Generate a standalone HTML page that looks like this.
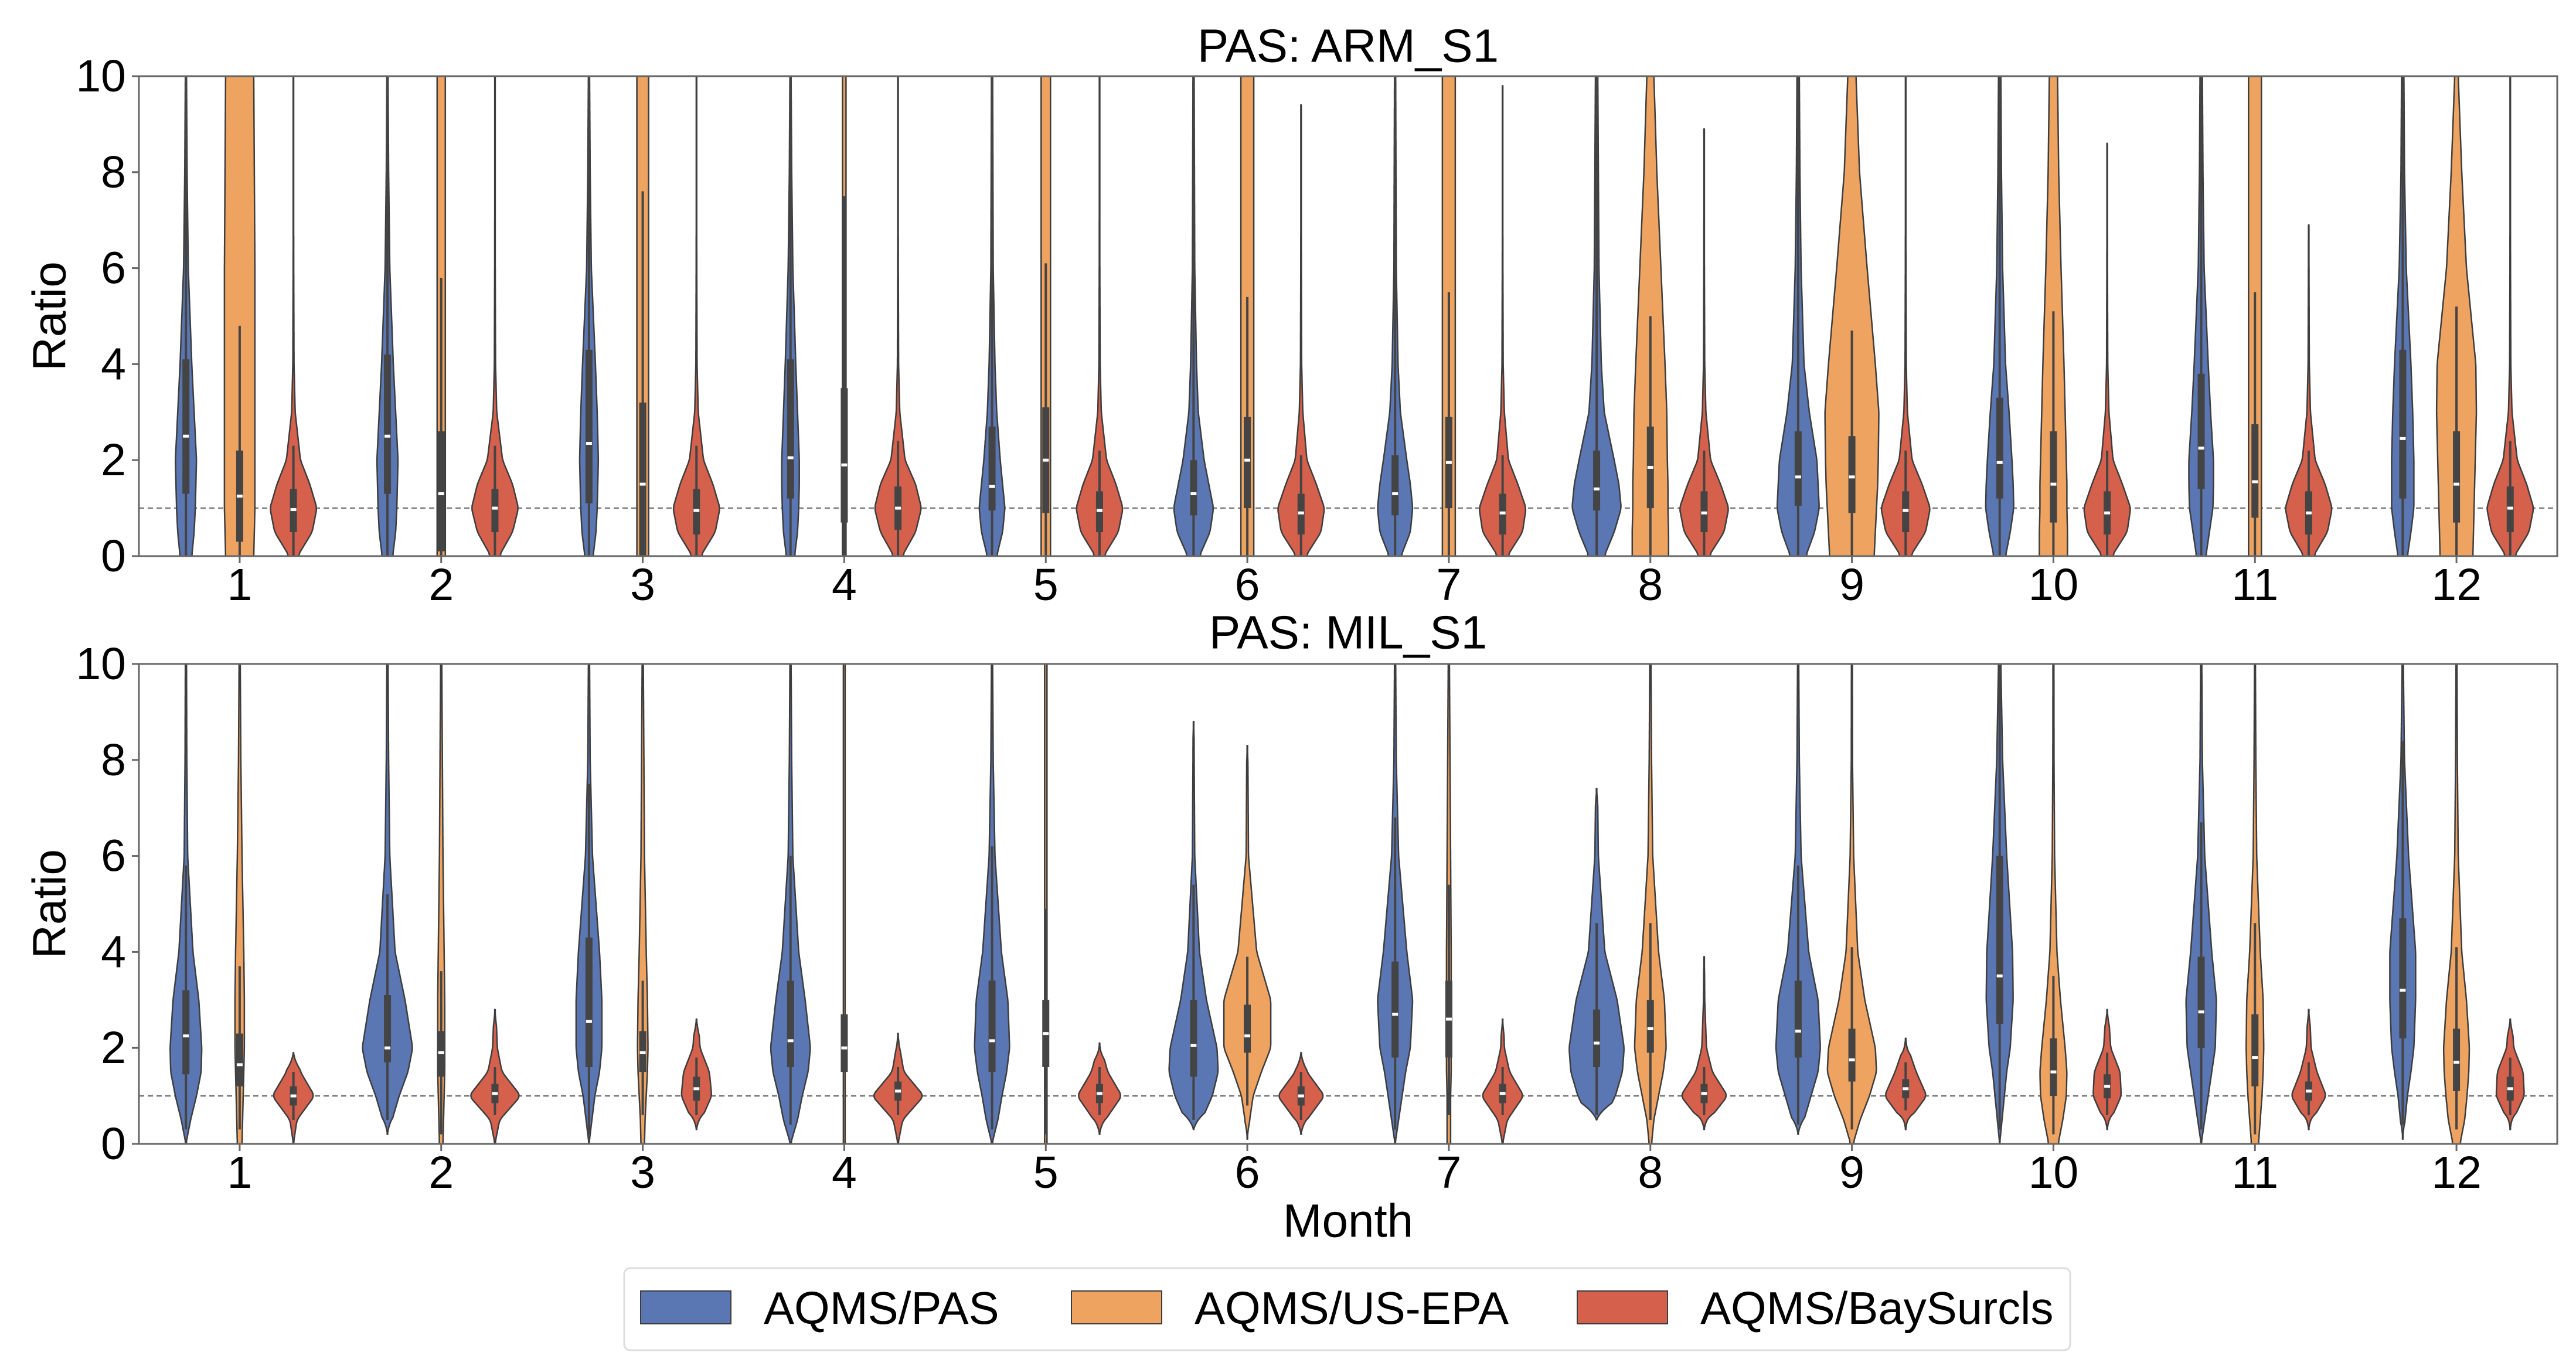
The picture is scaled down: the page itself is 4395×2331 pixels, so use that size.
<!DOCTYPE html>
<html><head><meta charset="utf-8">
<style>
html,body{margin:0;padding:0;background:#fff;}
svg{display:block;font-family:"Liberation Sans","DejaVu Sans",sans-serif;}
</style></head>
<body>
<svg id="chart" width="4395" height="2331" viewBox="0 0 4395 2331" xmlns="http://www.w3.org/2000/svg">
<rect width="4395" height="2331" fill="#fff"/>
<g id="root"></g>
</svg>
<script>
// ---------- data ----------
const months = [1,2,3,4,5,6,7,8,9,10,11,12];
const yTicks = [0,2,4,6,8,10];
const seriesNames = ["AQMS/PAS","AQMS/US-EPA","AQMS/BaySurcls"];
const densityGrid = [0,0.5,1,1.5,2,3,4,6,8,10];

// Panel 1: ARM_S1
const armBlueProfile = [
 [10,14,16,17,18,14,10,4,2,1],[9,14,16,17,18,14,10,4,2,1],[7,12,14,15,16,14,11,4,2,1],
 [7,12,14,15,15,12,9,4,2,1],[8,18,22,18,14,8,5,2,1.5,1],[10,28,34,26,18,8,5,2,1.5,1],
 [10,26,30,26,20,9,5,2,1.5,1],[13,30,42,38,30,13,8,4,3,2],[13,28,36,34,32,19,10,5,3,2],
 [10,18,24,23,21,16,10,5,3,2],[8,14,20,21,21,16,12,5,3,2],[8,14,19,19,19,17,14,6,3,2]];
const armBlueLo = [0,0,0,0,0,0,0,0,0,0,0,0];
const armBlueHi = [10,10,10,10,10,10,10,10,10,10,10,10];
const armBlueMed = [2.5,2.5,2.35,2.05,1.45,1.3,1.3,1.4,1.65,1.95,2.25,2.45];
const armBlueQ1 = [1.3,1.3,1.1,1.2,0.95,0.85,0.85,0.95,1.05,1.2,1.4,1.2];
const armBlueQ3 = [4.1,4.2,4.3,4.1,2.7,2.0,2.1,2.2,2.6,3.3,3.8,4.3];
const armBlueWLo = [0,0,0,0,0,0,0,0,0,0,0,0];
const armBlueWHi = [10,10,10,10,10,10,10,10,10,10,10,10];

const armOrangeProfile = [
 [24,25,26,26,26,26,26,26,25,24],[7,7,7,7,7,7,7,7,7,7],[10,10,10,10,10,10,10,10,10,10],
 [3,3,3,3,3,3,3,3,3,3],[8,8,8,8,8,8,8,8,8,8],[11,11,11,11,11,11,11,11,11,11],
 [11,11,11,11,11,11,11,11,11,11],[31,31,30,30,29,28,25,18,11,6],[38,40,42,44,45,46,40,26,13,7],
 [24,24,23,23,22,20,18,13,9,7],[11,11,11,11,11,11,11,11,11,11],[28,29,30,31,32,34,33,17,9,3]];
const armOrangeLo = [0,0,0,0,0,0,0,0,0,0,0,0];
const armOrangeHi = [10,10,10,10,10,10,10,10,10,10,10,10];
const armOrangeMed = [1.25,1.3,1.5,1.9,2.0,2.0,1.95,1.85,1.65,1.5,1.55,1.5];
const armOrangeQ1 = [0.3,0.1,0,0.7,0.9,1.0,1.0,1.0,0.9,0.7,0.8,0.7];
const armOrangeQ3 = [2.2,2.6,3.2,3.5,3.1,2.9,2.9,2.7,2.5,2.6,2.75,2.6];
const armOrangeWLo = [0,0,0,0,0,0,0,0,0,0,0,0];
const armOrangeWHi = [4.8,5.8,7.6,7.5,6.1,5.4,5.5,5.0,4.7,5.1,5.5,5.2];

const armRedProfile = [
 [7,32,40,28,12,3,1,0.5,0.3,0.3],[7,30,40,30,13,3,1,0.5,0.3,0.3],[7,32,40,28,12,3,1,0.5,0.3,0.3],
 [7,30,40,30,12,3,1,0.5,0.3,0.3],[7,32,40,28,12,3,1,0.5,0.3,0.3],[8,34,40,26,10,3,1,0.5,0.3,0.3],
 [8,34,40,26,10,3,1,0.5,0.3,0.3],[8,34,42,28,11,3,1,0.5,0.3,0.3],[8,34,42,28,11,3,1,0.5,0.3,0.3],
 [8,34,40,26,10,3,1,0.5,0.3,0.3],[8,32,40,28,11,3,1,0.5,0.3,0.3],[7,32,40,28,12,3,1,0.5,0.3,0.3]];
const armRedLo = [0,0,0,0,0,0,0,0,0,0,0,0];
const armRedHi = [10,10,10,10,10,9.4,9.8,8.9,10,8.6,6.9,10];
const armRedMed = [0.97,1.0,0.95,1.0,0.95,0.9,0.9,0.9,0.95,0.9,0.9,1.0];
const armRedQ1 = [0.5,0.5,0.45,0.55,0.5,0.45,0.45,0.5,0.5,0.45,0.45,0.5];
const armRedQ3 = [1.4,1.4,1.4,1.45,1.35,1.3,1.3,1.35,1.35,1.35,1.35,1.45];
const armRedWLo = [0,0,0,0,0,0,0,0,0,0,0,0];
const armRedWHi = [2.3,2.3,2.3,2.4,2.2,2.1,2.1,2.2,2.2,2.2,2.2,2.4];

// Panel 2: MIL_S1
const milBlueProfile = [
 [0,8,18,26,27,22,12,3,1.5,1],[0,8,20,35,43,30,13,4,2,1],[0,5,10,18,22,22,18,6,2,1],
 [0,12,20,30,34,25,14,4,2,1],[0,10,17,25,30,27,16,5,2,1],[0,14,32,42,40,22,10,2,1,0.5],
 [0,6,12,18,26,30,20,6,2,1],[0,12,32,44,47,35,14,3,1,0.5],[0,10,22,34,38,34,18,5,2,1],
 [0,4,8,12,18,23,22,12,5,2],[0,6,12,18,24,26,18,6,2,1],[0,4,8,14,19,22,22,10,3,1]];
const milBlueLo = [0,0.2,0,0,0,0.3,0,0.5,0.2,0,0,0.1];
const milBlueHi = [10,10,10,10,10,8.8,10,7.4,10,10,10,10];
const milBlueMed = [2.25,2.0,2.55,2.15,2.15,2.05,2.7,2.1,2.35,3.5,2.75,3.2];
const milBlueQ1 = [1.45,1.7,1.6,1.6,1.5,1.4,1.8,1.6,1.8,2.5,2.0,2.2];
const milBlueQ3 = [3.2,3.1,4.3,3.4,3.4,3.0,3.8,2.8,3.4,6.0,3.9,4.7];
const milBlueWLo = [0.3,0.5,0.2,0.4,0.3,0.5,0.3,0.6,0.4,0.3,0.3,0.4];
const milBlueWHi = [5.8,5.2,7.5,6.0,6.2,5.4,6.8,4.6,5.8,10,6.7,8.4];

const milOrangeProfile = [
 [4,5,6,7,8,8,7,4,2,1],[3,4,5,6,6,6,5,3,2,1],[3,4,6,8,9,8,6,3,2,1],
 [1.5,1.5,1.5,1.5,1.5,1.5,1.5,1.5,1.5,1.5],[2,2,2,2,2,2,2,2,2,2],[1,4,10,24,40,40,16,2,1,0],
 [3,3,3,4,4,4,4,3,2,1],[2,6,14,22,27,24,14,4,2,1],[2,14,30,42,40,22,10,3,1,0.8],
 [8,16,22,23,20,12,6,2,1,0.8],[6,9,12,14,15,14,9,3,1.5,0.8],[6,14,18,21,22,17,9,3,1.5,0.8]];
const milOrangeLo = [0,0,0,0,0,0.1,0,0,0,0,0,0];
const milOrangeHi = [10,10,10,10,10,8.3,10,10,10,10,10,10];
const milOrangeMed = [1.65,1.9,1.9,2.0,2.3,2.25,2.6,2.4,1.75,1.5,1.8,1.7];
const milOrangeQ1 = [1.2,1.4,1.5,1.5,1.6,1.9,1.8,1.9,1.3,1.0,1.2,1.1];
const milOrangeQ3 = [2.3,2.35,2.35,2.7,3.0,2.9,3.4,3.0,2.4,2.2,2.7,2.4];
const milOrangeWLo = [0.3,0.2,0.6,1.5,0.2,0.8,0.6,0.5,0.3,0.2,0.2,0.3];
const milOrangeWHi = [3.7,3.6,3.4,2.7,4.9,3.9,5.4,4.6,4.1,3.5,4.6,4.1];

const milRedProfile = [
 [0,6,36,12,3,0.3,0.3,0.3,0.3,0.3],[0,8,44,12,4,1,0.3,0.3,0.3,0.3],[0,8,26,22,6,1,0.3,0.3,0.3,0.3],
 [0,8,44,10,3,0.5,0.3,0.3,0.3,0.3],[0,10,38,14,3,0.5,0.3,0.3,0.3,0.3],[0,10,40,10,2,0.5,0.3,0.3,0.3,0.3],
 [0,8,36,12,3,1,0.3,0.3,0.3,0.3],[0,8,40,14,4,1,0.5,0.3,0.3,0.3],[0,6,36,18,4,0.5,0.3,0.3,0.3,0.3],
 [0,6,24,22,6,1,0.3,0.3,0.3,0.3],[0,6,30,14,4,1,0.3,0.3,0.3,0.3],[0,5,24,22,6,1,0.3,0.3,0.3,0.3]];
const milRedLo = [0,0,0.3,0,0.2,0.2,0,0.3,0.3,0.3,0.3,0.3];
const milRedHi = [1.9,2.8,2.6,2.3,2.1,1.9,2.6,3.9,2.2,2.8,2.8,2.6];
const milRedMed = [1.0,1.05,1.15,1.1,1.05,1.0,1.05,1.05,1.15,1.2,1.1,1.15];
const milRedQ1 = [0.8,0.85,0.9,0.9,0.85,0.8,0.85,0.85,0.95,0.95,0.9,0.9];
const milRedQ3 = [1.2,1.25,1.4,1.3,1.25,1.2,1.25,1.25,1.35,1.45,1.3,1.4];
const milRedWLo = [0.5,0.6,0.6,0.6,0.6,0.5,0.6,0.6,0.7,0.6,0.6,0.6];
const milRedWHi = [1.5,1.6,1.8,1.6,1.6,1.5,1.6,1.6,1.7,1.9,1.7,1.8];

// ---------- layout ----------
const NS = "http://www.w3.org/2000/svg";
const root = document.getElementById("root");
const X0 = 237, X1 = 4363;
const colors = ["#5a76b3","#eea361","#d5604b"];
const offsets = [-0.2667, 0, 0.2667];
function xScale(i){ return X0 + (i + 0.5) * (X1 - X0) / months.length; }
function mk(tag, attrs, parent){
  const e = document.createElementNS(NS, tag);
  for (const k in attrs) e.setAttribute(k, attrs[k]);
  (parent || root).appendChild(e);
  return e;
}
function interp(yv, prof){
  if (yv <= densityGrid[0]) return prof[0];
  for (let i = 1; i < densityGrid.length; i++){
    if (yv <= densityGrid[i]){
      const t = (yv - densityGrid[i-1]) / (densityGrid[i] - densityGrid[i-1]);
      return prof[i-1] + t * (prof[i] - prof[i-1]);
    }
  }
  return prof[prof.length - 1];
}

const panels = [
 {title:"PAS: ARM_S1", top:130, bottom:949, titleY:78, tickY:998, name:"arm",
  series:[
   {p:armBlueProfile,lo:armBlueLo,hi:armBlueHi,med:armBlueMed,q1:armBlueQ1,q3:armBlueQ3,wl:armBlueWLo,wh:armBlueWHi},
   {p:armOrangeProfile,lo:armOrangeLo,hi:armOrangeHi,med:armOrangeMed,q1:armOrangeQ1,q3:armOrangeQ3,wl:armOrangeWLo,wh:armOrangeWHi},
   {p:armRedProfile,lo:armRedLo,hi:armRedHi,med:armRedMed,q1:armRedQ1,q3:armRedQ3,wl:armRedWLo,wh:armRedWHi}]},
 {title:"PAS: MIL_S1", top:1133, bottom:1952, titleY:1079, tickY:2001, name:"mil",
  series:[
   {p:milBlueProfile,lo:milBlueLo,hi:milBlueHi,med:milBlueMed,q1:milBlueQ1,q3:milBlueQ3,wl:milBlueWLo,wh:milBlueWHi},
   {p:milOrangeProfile,lo:milOrangeLo,hi:milOrangeHi,med:milOrangeMed,q1:milOrangeQ1,q3:milOrangeQ3,wl:milOrangeWLo,wh:milOrangeWHi},
   {p:milRedProfile,lo:milRedLo,hi:milRedHi,med:milRedMed,q1:milRedQ1,q3:milRedQ3,wl:milRedWLo,wh:milRedWHi}]}
];
const seriesKeys = ["pas","us-epa","baysurcls"];

panels.forEach((P, pi) => {
  const yScale = v => P.bottom - (v / 10) * (P.bottom - P.top);
  const g = mk("g", {});
  
  
  const clipId = "clip" + pi;
  const cp = mk("clipPath", {id: clipId}, g);
  mk("rect", {x: X0, y: P.top, width: X1 - X0, height: P.bottom - P.top}, cp);

  const t = mk("text", {x: (X0 + X1) / 2, y: P.titleY, "text-anchor": "middle", "dominant-baseline": "central", "font-size": 80, fill: "#000"}, g);
  t.textContent = P.title;
  
  

  const ref = mk("line", {x1: X0, x2: X1, y1: yScale(1), y2: yScale(1), stroke: "#777", "stroke-width": 2.5, "stroke-dasharray": "9,6"}, g);
  
  

  const vg = mk("g", {"clip-path": "url(#" + clipId + ")"}, g);
  P.series.forEach((S, si) => {
    months.forEach((m, i) => {
      const cx = xScale(i) + offsets[si] * (X1 - X0) / months.length;
      const lo = S.lo[i], clipTop = S.hi[i] >= 10;
      const hi = clipTop ? 10.3 : S.hi[i];
      const ys = [], ws = [];
      for (let v = lo; v <= hi + 1e-9; v += 0.02){ ys.push(v); ws.push(interp(v, S.p[i])); }
      let sm = ws.map((w, k) => { let s = 0, n = 0; for (let d = -4; d <= 4; d++){ const kk = k + d; if (kk >= 0 && kk < ws.length){ s += ws[kk]; n++; } } return s / n; });
      sm = sm.map((w, k) => {
        let f = 1;
        if (lo > 0) f = Math.min(f, (ys[k] - lo) / 0.35);
        if (!clipTop) f = Math.min(f, (hi - ys[k]) / 0.35);
        return Math.max(w * Math.max(f, 0), 0.4);
      });
      let d = "";
      ys.forEach((v, k) => { d += (k ? "L" : "M") + (cx + sm[k]).toFixed(1) + "," + yScale(v).toFixed(1); });
      for (let k = ys.length - 1; k >= 0; k--) d += "L" + (cx - sm[k]).toFixed(1) + "," + yScale(ys[k]).toFixed(1);
      d += "Z";
      const vio = mk("path", {d: d, fill: colors[si], stroke: "#3d3d3d", "stroke-width": 2.5, "stroke-linejoin": "round"}, vg);
      
      
      const wl = mk("line", {x1: cx, x2: cx, y1: yScale(S.wl[i]), y2: yScale(Math.min(S.wh[i], 10.3)), stroke: "#444", "stroke-width": 4}, vg);
      
      
      const bx = mk("rect", {x: cx - 6, y: yScale(S.q3[i]), width: 12, height: Math.max(yScale(S.q1[i]) - yScale(S.q3[i]), 1), fill: "#444"}, vg);
      
      
      const md = mk("rect", {x: cx - 5, y: yScale(S.med[i]) - 2.5, width: 10, height: 5, fill: "#fff"}, vg);
      
      
    });
  });

  const fr = mk("rect", {x: X0, y: P.top, width: X1 - X0, height: P.bottom - P.top, fill: "none", stroke: "#666", "stroke-width": 3}, g);
  
  

  yTicks.forEach(v => {
    mk("line", {x1: X0 - 12, x2: X0, y1: yScale(v), y2: yScale(v), stroke: "#666", "stroke-width": 3}, g);
    const tl = mk("text", {x: X0 - 22, y: yScale(v), "text-anchor": "end", "dominant-baseline": "central", "font-size": 77, fill: "#000"}, g);
    tl.textContent = v;
    
    
  });
  months.forEach((m, i) => {
    mk("line", {x1: xScale(i), x2: xScale(i), y1: P.bottom, y2: P.bottom + 12, stroke: "#666", "stroke-width": 3}, g);
    const tl = mk("text", {x: xScale(i), y: P.tickY, "text-anchor": "middle", "dominant-baseline": "central", "font-size": 77, fill: "#000"}, g);
    tl.textContent = m;
    
    
  });
  const yt = mk("text", {x: 84, y: (P.top + P.bottom) / 2, "text-anchor": "middle", "dominant-baseline": "central", "font-size": 80, fill: "#000", transform: "rotate(-90 84 " + (P.top + P.bottom) / 2 + ")"}, g);
  yt.textContent = "Ratio";
  
  
});

const xt = mk("text", {x: (X0 + X1) / 2, y: 2083, "text-anchor": "middle", "dominant-baseline": "central", "font-size": 80, fill: "#000"});
xt.textContent = "Month";



const lg = mk("g", {});


mk("rect", {x: 1065, y: 2164, width: 2467, height: 140, rx: 10, fill: "#fff", stroke: "#ddd", "stroke-width": 3}, lg);
const patchX = [1093, 1828, 2691];
seriesNames.forEach((nm, si) => {
  const e = mk("g", {}, lg);
  
  
  mk("rect", {x: patchX[si], y: 2203, width: 154, height: 56, fill: colors[si], stroke: "#3d3d3d", "stroke-width": 2}, e);
  const tx = mk("text", {x: patchX[si] + 210, y: 2232, "dominant-baseline": "central", "font-size": 78, fill: "#000"}, e);
  tx.textContent = nm;
});
</script>
</body></html>
